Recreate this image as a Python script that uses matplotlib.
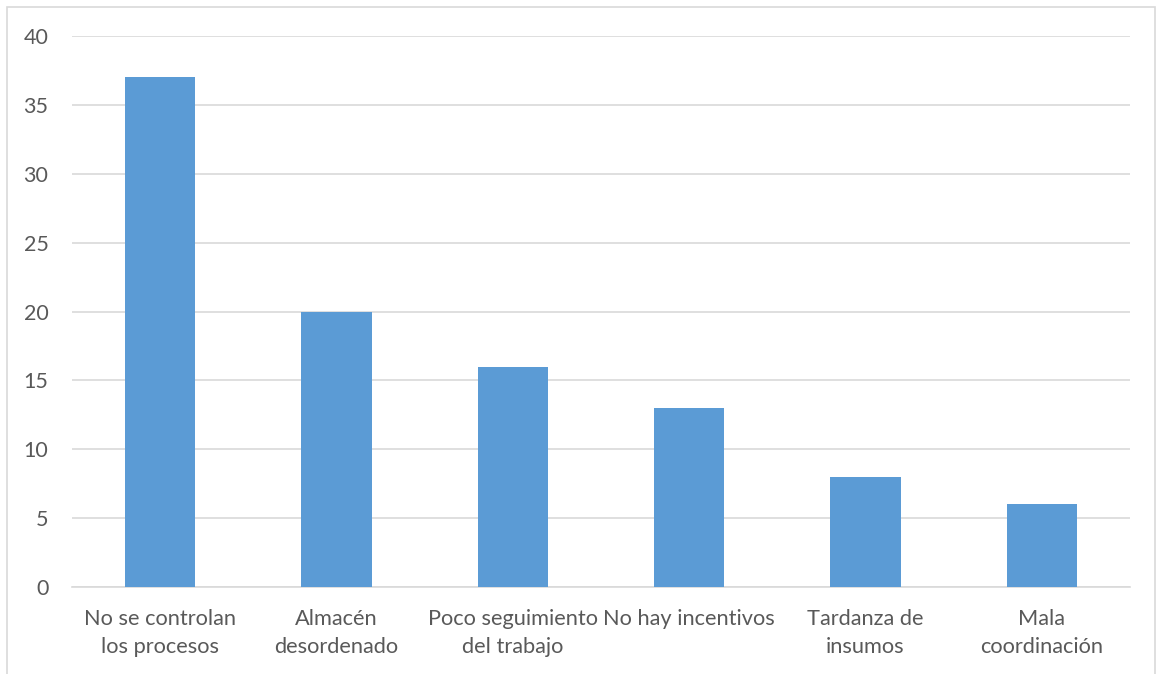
import matplotlib.pyplot as plt
from matplotlib.patches import Rectangle

categorias = ["No se controlan\nlos procesos", "Almacén\ndesordenado", "Poco seguimiento\ndel trabajo",
              "No hay incentivos", "Tardanza de\ninsumos", "Mala\ncoordinación"]
valores = [37, 20, 16, 13, 8, 6]

plt.rcParams['font.family'] = ['Lato', 'DejaVu Sans']
texto = '#595959'

fig = plt.figure(figsize=(11.61, 6.74), dpi=100)
ax = fig.add_axes([72/1161, 1 - 587/674, (1130 - 72)/1161, (587 - 36)/674])

# marco exterior del grafico
fig.patches.append(Rectangle((7/1161, -0.05), (1155 - 7)/1161, 1.05 - 7/674,
                             transform=fig.transFigure, fill=False,
                             edgecolor='#D9D9D9', linewidth=1.2))

x = range(len(categorias))
ax.bar(x, valores, width=0.4, color='#5B9BD5', zorder=3)

ax.set_xlim(-0.5, len(categorias) - 0.5)
ax.set_ylim(0, 40)
ax.set_yticks(range(0, 41, 5))
ax.set_xticks(list(x))
ax.set_xticklabels(categorias, fontsize=15.7, color=texto, linespacing=1.5)
ax.tick_params(axis='y', labelsize=15.5, labelcolor=texto, length=0, pad=17)
ax.tick_params(axis='x', length=0, pad=16)
ax.yaxis.grid(True, color='#D9D9D9', linewidth=1.2, zorder=0)
for s in ['top', 'right', 'left']:
    ax.spines[s].set_visible(False)
ax.spines['bottom'].set_color('#D9D9D9')
ax.spines['bottom'].set_linewidth(1.2)

fig.savefig('out.png', dpi=100)
